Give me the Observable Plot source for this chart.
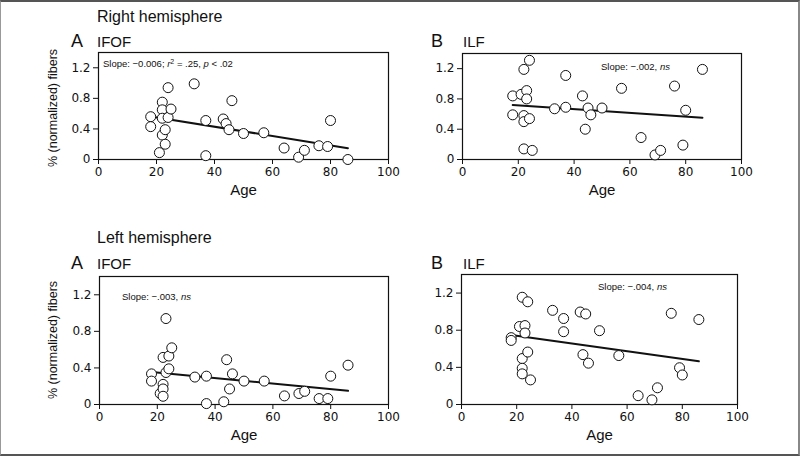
<!DOCTYPE html>
<html>
<head>
<meta charset="utf-8">
<script src="https://cdn.jsdelivr.net/npm/d3@7"></script>
<script src="https://cdn.jsdelivr.net/npm/@observablehq/plot@0.6"></script>
<style>
  html, body { margin: 0; padding: 0; background: #fff; }
  #root { position: relative; width: 800px; height: 456px; overflow: hidden; background: #fff;
          font-family: "Liberation Sans", Arial, sans-serif; color: #111; }
  .abs { position: absolute; white-space: nowrap; line-height: 1; }
  .head { font-size: 16px; }
  .letter { font-size: 18px; }
  .tract { font-size: 15px; }
  .note { font-size: 9.5px; }
  .ylab { font-size: 12.5px; transform: translate(-50%, -50%) rotate(-90deg); }
  .panel { position: absolute; }
  #border { position: absolute; left: 0; top: 0; width: 800px; height: 456px; box-sizing: border-box;
            border-top: 2px solid #555; border-bottom: 2px solid #555; border-left: 1px solid #999; border-right: 2px solid #888; pointer-events: none; }
</style>
</head>
<body>
<div id="root"></div>
<script>
// Shared subject ages (x values)
const ages = [18,18,21,22,22,22,22,23,23,24,24,25,33,37,37,43,44,45,46,50,57,64,69,71,76,79,80,86];

// % (normalized) fibers per panel, same subject order as ages
const rightIFOF = [0.56,0.43,0.09,0.75,0.65,0.54,0.32,0.39,0.20,0.94,0.55,0.66,0.99,0.51,0.05,0.53,0.47,0.39,0.77,0.34,0.35,0.15,0.03,0.12,0.18,0.17,0.51,0.00];
const rightILF  = [0.84,0.59,0.86,1.19,0.58,0.50,0.14,0.91,0.80,1.31,0.54,0.12,0.67,1.11,0.69,0.84,0.40,0.68,0.59,0.68,0.94,0.29,0.06,0.12,0.97,0.19,0.65,1.19];
const leftIFOF  = [0.335,0.256,0.12,0.515,0.22,0.17,0.09,0.94,0.35,0.53,0.39,0.62,0.30,0.31,0.01,0.03,0.49,0.17,0.335,0.256,0.256,0.094,0.12,0.144,0.065,0.065,0.31,0.43];
const leftILF   = [0.72,0.69,0.84,1.155,0.495,0.39,0.33,0.85,0.77,1.106,0.565,0.265,1.014,0.926,0.784,0.996,0.537,0.975,0.445,0.795,0.527,0.095,0.05,0.18,0.982,0.396,0.318,0.915];

// Tick labels
const xTicks = [0, 20, 40, 60, 80, 100];
const yTicks = [0, 0.4, 0.8, 1.2];
const yTickLabels = ["0", "0.4", "0.8", "1.2"];

const xLabel = "Age";
const yLabel = "% (normalized) fibers";
const hemispheres = ["Right hemisphere", "Left hemisphere"];

const root = document.getElementById("root");

function makePanel(values, {left, top, width, height, marginLeft}) {
  const data = ages.map((a, i) => ({age: a, value: values[i]}));
  const chart = Plot.plot({
    width, height,
    marginLeft, marginRight: 14, marginTop: 12, marginBottom: 45,
    style: {fontFamily: "'DejaVu Sans', Verdana, sans-serif", fontSize: "12px", color: "#111", background: "transparent"},
    x: {domain: [0, 100]},
    y: {domain: [0, 1.4]},
    marks: [
      Plot.frame({stroke: "#111", strokeWidth: 1.2}),
      Plot.axisX({ticks: xTicks, tickSize: 5, tickPadding: 3, label: null, stroke: "#111"}),
      Plot.axisY({ticks: yTicks, tickSize: 5, tickPadding: 3, label: null, stroke: "#111",
                  tickFormat: d => yTickLabels[yTicks.indexOf(d)]}),
      Plot.text([xLabel], {frameAnchor: "bottom", dy: 35, fontSize: 15,
                  fontFamily: "'Liberation Sans', Arial, sans-serif", fill: "#111"}),
      Plot.linearRegressionY(data, {x: "age", y: "value", ci: 0, stroke: "#111", strokeWidth: 2}),
      Plot.dot(data, {x: "age", y: "value", r: 5, stroke: "#111", strokeWidth: 1, fill: "white"})
    ]
  });
  chart.classList.add("panel");
  chart.style.left = left + "px";
  chart.style.top = top + "px";
  root.appendChild(chart);
}

function addText(html, cls, left, top) {
  const d = document.createElement("div");
  d.className = "abs " + cls;
  d.style.left = left + "px";
  d.style.top = top + "px";
  d.innerHTML = html;
  root.appendChild(d);
}

makePanel(rightIFOF, {left: 40, top: 40, width: 362, height: 164, marginLeft: 58});
makePanel(rightILF,  {left: 422, top: 41, width: 333, height: 163, marginLeft: 40});
makePanel(leftIFOF,  {left: 40, top: 264, width: 362, height: 185, marginLeft: 59});
makePanel(leftILF,   {left: 421, top: 262, width: 330, height: 187, marginLeft: 40});

// Headings
addText(hemispheres[0], "head", 97, 9);
addText("A", "letter", 71, 32);
addText("IFOF", "tract", 97, 34);
addText("B", "letter", 431, 32);
addText("ILF", "tract", 463, 34);

addText(hemispheres[1], "head", 97, 230);
addText("A", "letter", 71, 254);
addText("IFOF", "tract", 97, 256);
addText("B", "letter", 431, 254);
addText("ILF", "tract", 463, 256);

// Slope annotations
addText("Slope: \u22120.006; <i>r</i><sup style='font-size:7px;vertical-align:3px'>2</sup> = .25, <i>p</i> &lt; .02", "note", 103, 58);
addText("Slope: \u2212.002, <i>ns</i>", "note", 601, 62);
addText("Slope: \u2212.003, <i>ns</i>", "note", 122, 292);
addText("Slope: \u2212.004, <i>ns</i>", "note", 598, 282);

// Y-axis labels (left panels)
addText(yLabel, "ylab", 53, 108);
addText(yLabel, "ylab", 53, 340);

const b = document.createElement("div");
b.id = "border";
root.appendChild(b);
</script>
</body>
</html>
